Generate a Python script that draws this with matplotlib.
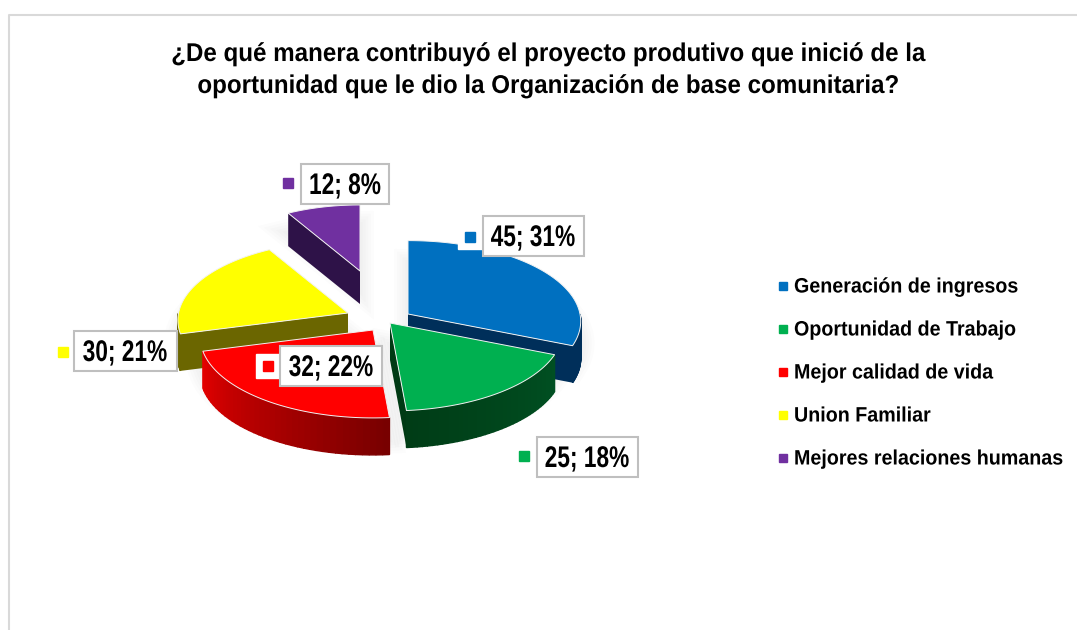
import numpy as np
import matplotlib
matplotlib.use("Agg")
import matplotlib.pyplot as plt
from matplotlib.colors import to_rgb
from matplotlib.patches import Rectangle
from matplotlib.patheffects import AbstractPathEffect
from matplotlib.transforms import Affine2D

### DATA
categories = ["Generación de ingresos", "Oportunidad de Trabajo", "Mejor calidad de vida",
              "Union Familiar", "Mejores relaciones humanas"]
values = [45, 25, 32, 30, 12]
percents = [31, 18, 22, 21, 8]
title = "¿De qué manera contribuyó el proyecto produtivo que inició de la\noportunidad que le dio la Organización de base comunitaria?"

### STYLE
top_colors = ["#0070C0", "#00B050", "#FF0000", "#FFFF00", "#7030A0"]
side_from = ["#002F5A", "#003C16", "#E60000", "#6B6600", "#2E1248"]
side_to = ["#002F5A", "#005022", "#780000", "#6B6600", "#2E1248"]
face_colors = ["#002F5A", "#003A14", "#C00000", "#6B6600", "#2E1248"]
face_edge = ["end", "end", None, "start", "start"]
draw_order = [4, 3, 0, 2, 1]

# pie geometry in pixels
CX, CY = 380, 322
RX, RY = 172, 80
PERSP = 0.09
shift_x = [28, 10, -7, -32, -20]
shift_y = [-8, 1, 8, -9, -51]
scales = [1, 1, 1, 0.985, 0.9]
depths = [37, 37, 37, 37, 33]

label_pos = [(533, 236), (587, 457), (331, 366), (125, 351), (345, 184)]
label_width = [101, 101, 102, 103, 88]
marker_pos = [(470, 237), (524, 456), (268, 366), (63, 352), (288, 183)]
marker_halo = [True, False, True, False, False]

FONT = "Liberation Sans"


class Squeeze(AbstractPathEffect):
    # the source picture has narrow text, there is no narrow font here
    def __init__(self, sx, cx, dx=0):
        super().__init__()
        self.sx = sx
        self.cx = cx
        self.dx = dx

    def draw_path(self, renderer, gc, tpath, affine, rgbFace=None):
        squeeze = Affine2D().translate(-self.cx, 0).scale(self.sx, 1).translate(self.cx + self.dx, 0)
        renderer.draw_path(gc, tpath, affine + squeeze, rgbFace)


def rim(a, scale):
    th = np.radians(a)
    w = 1 + PERSP * np.cos(th)
    return RX * np.sin(th) / w * scale, -RY * np.cos(th) / w * scale


fig = plt.figure(figsize=(10.77, 6.3), dpi=100)
ax = fig.add_axes([0, 0, 1, 1])
ax.set_xlim(0, 1077)
ax.set_ylim(630, 0)
ax.axis("off")

# chart frame
ax.plot([8.5, 8.5, 1077], [630, 14.5, 14.5], color="#D9D9D9", lw=1.5)

ax.text(549, 70, title, ha="center", va="center", family=FONT, weight="bold",
        fontsize=18.5, color="black", linespacing=1.42, path_effects=[Squeeze(0.94, 549)])

edges = np.cumsum([0] + values) / sum(values) * 360

# soft shadow
for i in range(len(values)):
    a = np.linspace(edges[i], edges[i + 1], 60)
    x, y = rim(a, scales[i])
    ax_x = np.r_[0, x] + CX + shift_x[i]
    ax_y = np.r_[0, y] + CY + shift_y[i] + depths[i] * 0.6
    for lw in [4, 8, 12, 16, 20]:
        ax.fill(ax_x, ax_y, fc="black", ec="black", alpha=0.012, lw=lw, zorder=1)

for i in draw_order:
    ox, oy = CX + shift_x[i], CY + shift_y[i]
    d = depths[i]
    a0, a1 = edges[i], edges[i + 1]
    z = 2 + draw_order.index(i)

    # radial cut face
    if face_edge[i]:
        ang = a1 if face_edge[i] == "end" else a0
        ex, ey = rim(ang, scales[i])
        ax.fill([ox, ox + ex, ox + ex, ox], [oy, oy + ey, oy + ey + d, oy + d],
                fc=face_colors[i], ec="none", zorder=z)

    # outer wall, only the part facing us
    lo, hi = max(a0, 90), min(a1, 270)
    if hi > lo:
        steps = np.linspace(lo, hi, 40)
        c0, c1 = np.array(to_rgb(side_from[i])), np.array(to_rgb(side_to[i]))
        for j in range(len(steps) - 1):
            xa, ya = rim(steps[j:j + 2], scales[i])
            f = (steps[j] - lo) / (hi - lo)
            col = c1 + (c0 - c1) * f
            ax.fill([ox + xa[0], ox + xa[1], ox + xa[1], ox + xa[0]],
                    [oy + ya[0], oy + ya[1], oy + ya[1] + d, oy + ya[0] + d],
                    fc=col, ec=col, lw=1.0, zorder=z)

    # top of the slice
    a = np.linspace(a0, a1, 80)
    x, y = rim(a, scales[i])
    ax.fill(np.r_[0, x] + ox, np.r_[0, y] + oy, fc=top_colors[i], ec="#F2F2F2", lw=0.7,
            zorder=z, joinstyle="round")

# data labels
for i in range(len(values)):
    mx, my = marker_pos[i]
    if marker_halo[i]:
        ax.plot(mx, my, marker="s", ms=17.5, color="white", ls="none", zorder=20)
    ax.plot(mx, my, marker="s", ms=7.5, color=top_colors[i], ls="none", zorder=21)
    lx, ly = label_pos[i]
    ax.add_patch(Rectangle((lx - label_width[i] / 2, ly - 20), label_width[i], 40, fc="white",
                           ec="#BFBFBF", lw=1.5, zorder=22))
    ax.text(lx, ly + 2, f"{values[i]}; {percents[i]}%", ha="center", va="center", family=FONT,
            weight="bold", fontsize=21.5, color="black", zorder=23,
            path_effects=[Squeeze(0.76, lx)])

# legend
for i in range(len(categories)):
    row = 286 + 43 * i
    ax.plot(783, row, marker="s", ms=5.8, color=top_colors[i], ls="none")
    ax.text(785, row + 1, categories[i], ha="left", va="center", family=FONT, weight="bold",
            fontsize=15, color="black", path_effects=[Squeeze(0.945, 785, dx=9)])

fig.savefig("out.png", dpi=100)
